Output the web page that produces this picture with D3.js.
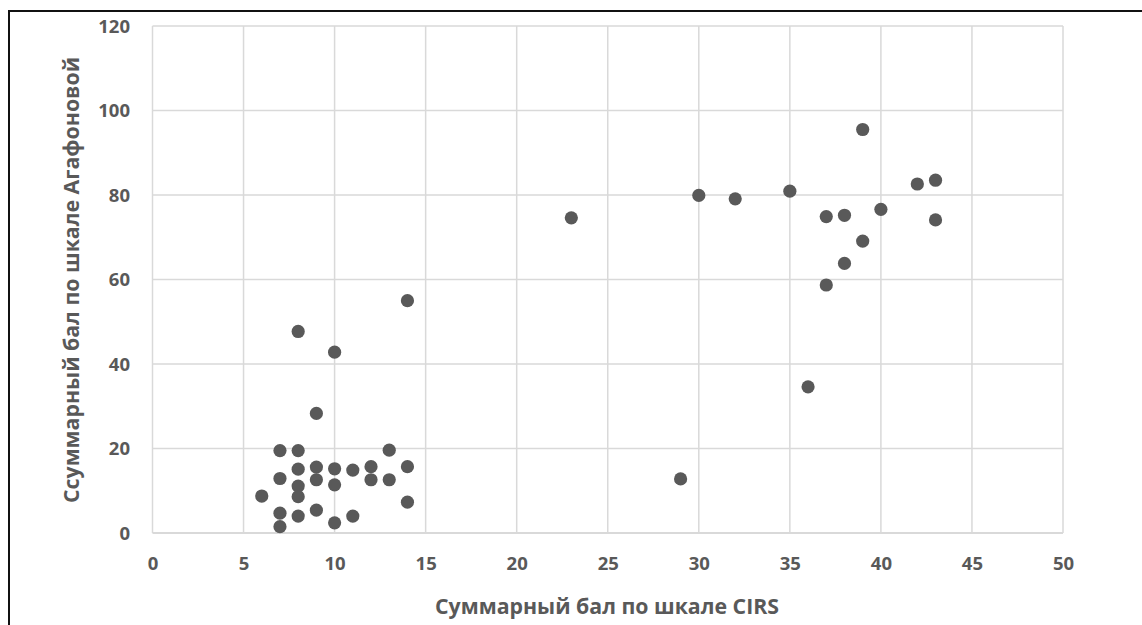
<!DOCTYPE html>
<html><head><meta charset="utf-8">
<script src="https://cdn.jsdelivr.net/npm/d3@7"></script>
<style>body{margin:0;background:#fff;}svg{display:block;}</style>
</head><body>
<script>
const xVals = [6,7,7,7,7,8,8,8,8,8,8,9,9,9,9,10,10,10,10,11,11,12,12,13,13,14,14,14,
  23,29,30,32,35,36,37,37,38,38,39,39,40,42,43,43];
const yVals = [8.75,19.5,12.9,4.7,1.5,47.7,19.5,15.1,11.1,8.6,4.0,28.3,15.6,12.6,5.4,42.8,15.2,11.4,2.4,14.9,4.0,15.7,12.6,19.6,12.6,55,15.7,7.3,
  74.6,12.8,79.9,79.1,80.9,34.6,74.9,58.7,75.2,63.8,95.5,69.1,76.6,82.6,83.5,74.1];
const xTicks = [0,5,10,15,20,25,30,35,40,45,50];
const yTicks = [0,20,40,60,80,100,120];
const xTitle = "Суммарный бал по шкале CIRS";
const yTitle = "Ссуммарный бал по шкале Агафоновой";

const W = 1142, H = 625;
const svg = d3.select("body").append("svg").attr("width", W).attr("height", H);
const x = d3.scaleLinear().domain([0,50]).range([152.5,1063]);
const y = d3.scaleLinear().domain([0,120]).range([533,26]);
const font = "'Open Sans', sans-serif";
const grey = "#595959";

// frame
svg.append("line").attr("x1",9).attr("x2",9).attr("y1",10).attr("y2",H).attr("stroke","#111").attr("stroke-width",2);
svg.append("line").attr("x1",8).attr("x2",W).attr("y1",11).attr("y2",11).attr("stroke","#111").attr("stroke-width",2);

// grid
svg.append("g").selectAll("line").data(xTicks).join("line")
  .attr("x1",d=>x(d)).attr("x2",d=>x(d)).attr("y1",y(120)).attr("y2",y(0))
  .attr("stroke","#d9d9d9").attr("stroke-width",1.5);
svg.append("g").selectAll("line").data(yTicks).join("line")
  .attr("x1",x(0)).attr("x2",x(50)).attr("y1",d=>y(d)).attr("y2",d=>y(d))
  .attr("stroke","#d9d9d9").attr("stroke-width",d=>d===0?2:1.5);

// axes labels via d3 axes
const xAxis = svg.append("g").attr("transform",`translate(0,${y(0)})`)
  .call(d3.axisBottom(x).tickValues(xTicks).tickSize(0));
const yAxis = svg.append("g").attr("transform",`translate(${x(0)},0)`)
  .call(d3.axisLeft(y).tickValues(yTicks).tickSize(0).tickPadding(22.5));
[xAxis,yAxis].forEach(a=>{
  a.select(".domain").remove();
  a.selectAll("text").attr("font-family",font).attr("font-size",18.5).attr("font-weight",700).attr("fill",grey);
});
xAxis.selectAll("text").attr("dy","0.35em").attr("y",31);
yAxis.selectAll("text").attr("dy","0.35em");

// points
svg.append("g").selectAll("circle").data(xVals.map((v,i)=>[v,yVals[i]])).join("circle")
  .attr("cx",d=>x(d[0])).attr("cy",d=>y(d[1])).attr("r",6.6).attr("fill",grey);

// titles
svg.append("text").attr("x",607).attr("y",607).attr("dy","0.35em").attr("text-anchor","middle")
  .attr("font-family",font).attr("font-size",21.3).attr("font-weight",700).attr("fill",grey).text(xTitle);
svg.append("text").attr("transform",`translate(72,280) rotate(-90)`).attr("dy","0.35em").attr("text-anchor","middle")
  .attr("font-family",font).attr("font-size",21.3).attr("font-weight",700).attr("fill",grey).text(yTitle);
</script>
</body></html>
